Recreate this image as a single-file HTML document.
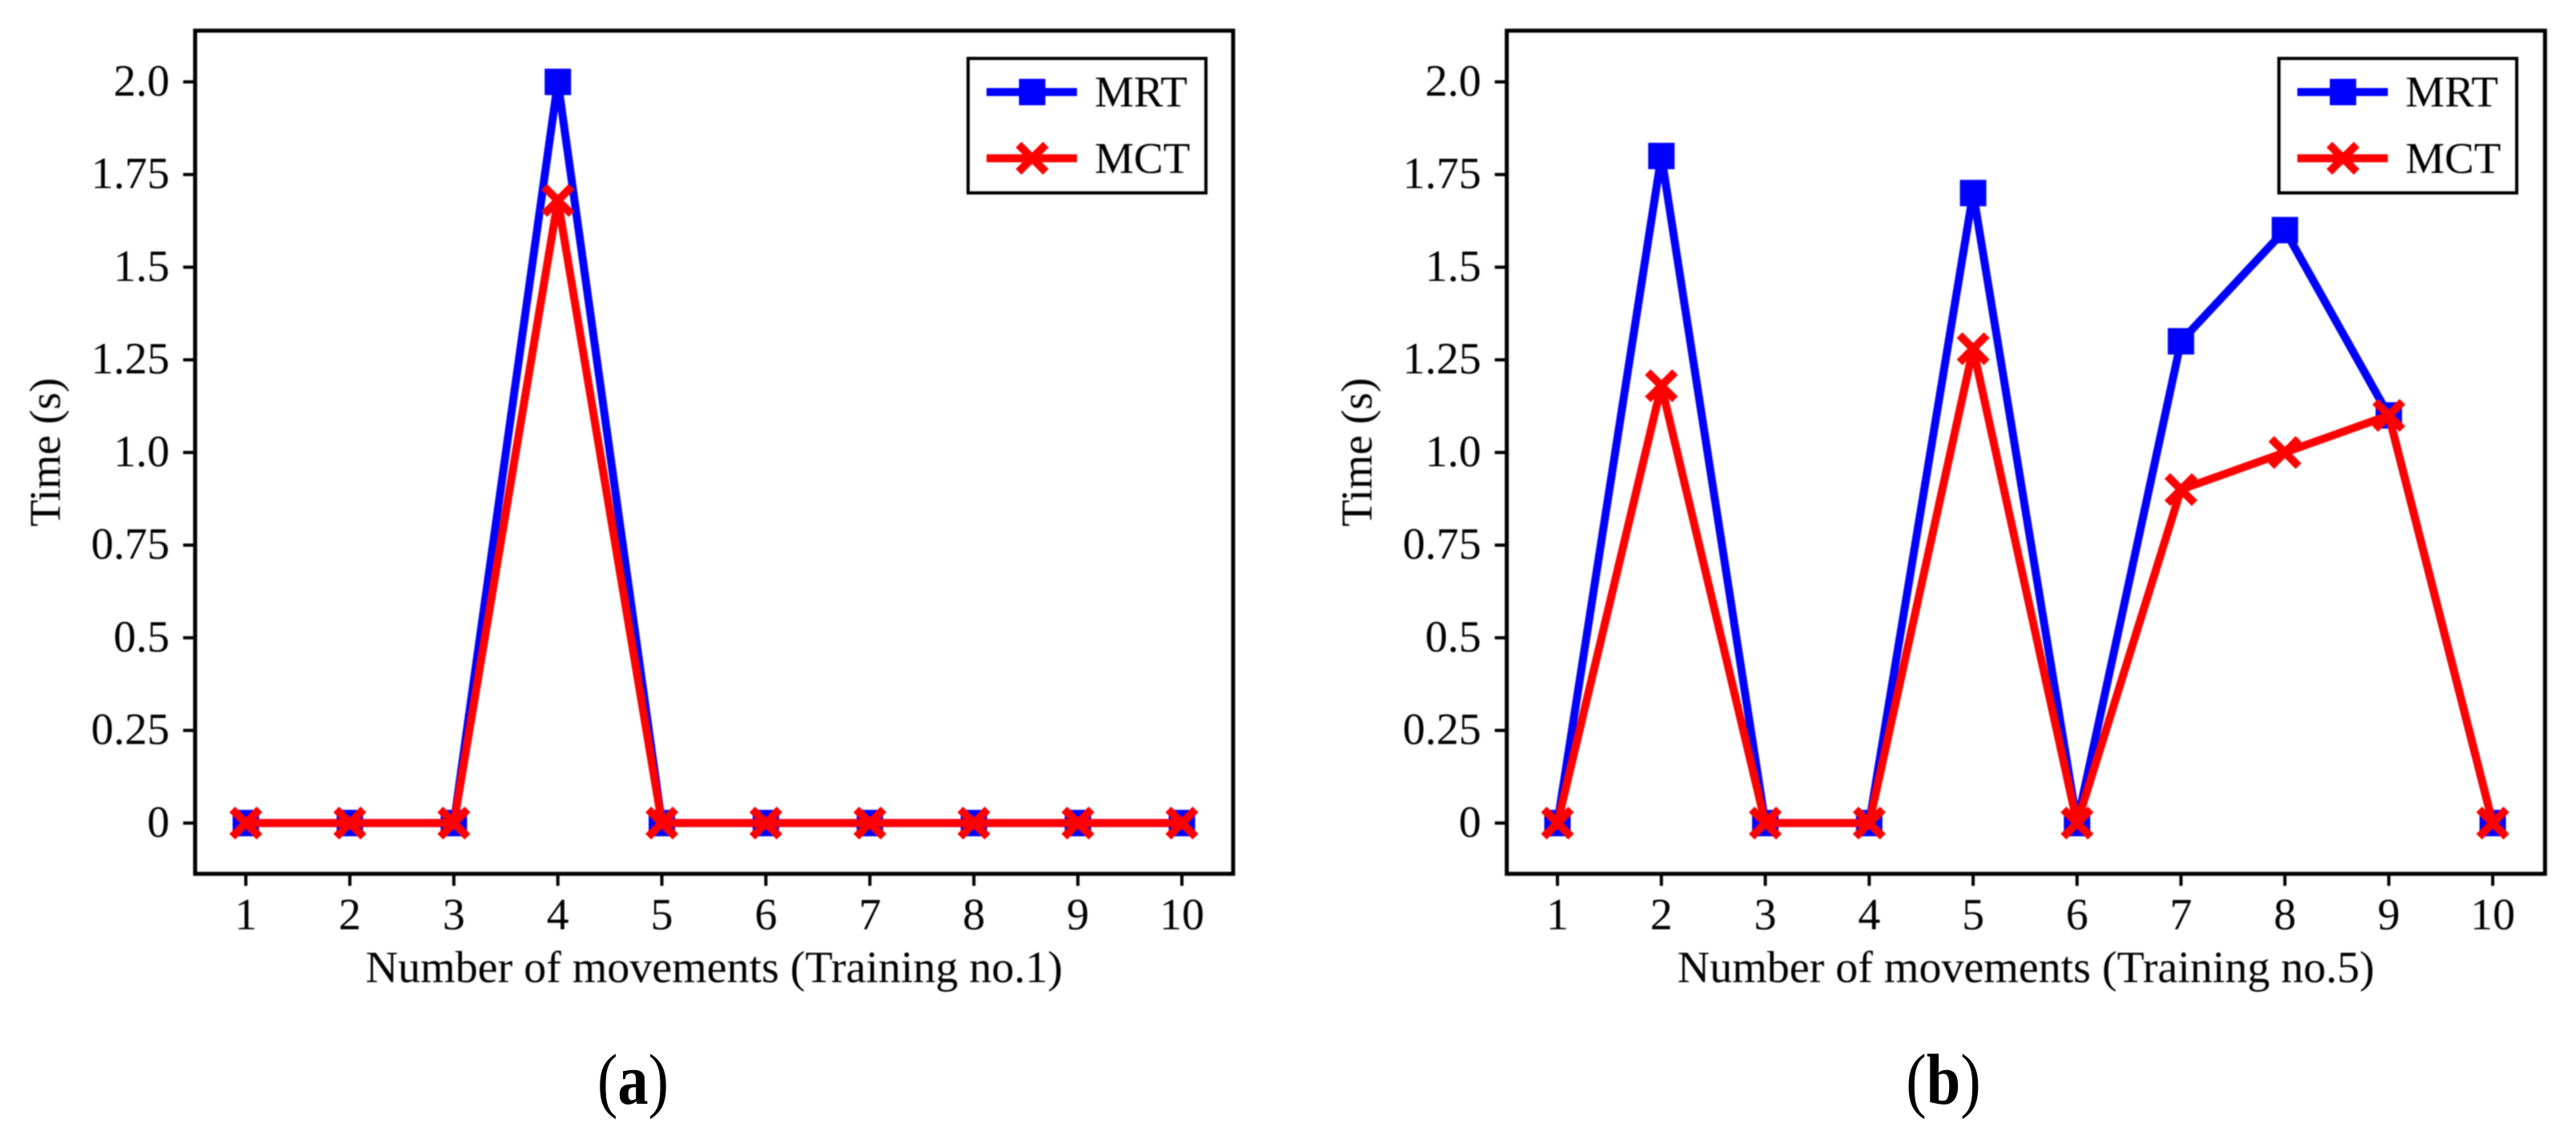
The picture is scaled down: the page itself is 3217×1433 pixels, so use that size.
<!DOCTYPE html>
<html lang="en">
<head>
<meta charset="utf-8">
<title>MRT and MCT per movement</title>
<style>
html,body{margin:0;padding:0;background:#fff;width:3217px;height:1433px;overflow:hidden}
svg{display:block}
text{font-family:"Liberation Serif",serif;fill:#000;text-rendering:geometricPrecision}
.soft{filter:blur(0.7px)}
</style>
</head>
<body>
<svg id="figure" xmlns="http://www.w3.org/2000/svg" width="3217" height="1433" viewBox="0 0 3217 1433"></svg>
<script>
const movementCategories = [1, 2, 3, 4, 5, 6, 7, 8, 9, 10];
const yTickValues = [0, 0.25, 0.5, 0.75, 1.0, 1.25, 1.5, 1.75, 2.0];
const yTickLabels = ['0', '0.25', '0.5', '0.75', '1.0', '1.25', '1.5', '1.75', '2.0'];
const mrtTraining1 = [0, 0, 0, 2.0, 0, 0, 0, 0, 0, 0];
const mctTraining1 = [0, 0, 0, 1.68, 0, 0, 0, 0, 0, 0];
const mrtTraining5 = [0, 1.8, 0, 0, 1.7, 0, 1.3, 1.6, 1.1, 0];
const mctTraining5 = [0, 1.18, 0, 0, 1.28, 0, 0.9, 1.0, 1.1, 0];

const NS = 'http://www.w3.org/2000/svg';
const svg = document.getElementById('figure');

function mk(parent, tag, attrs, txt) {
  const el = document.createElementNS(NS, tag);
  for (const k in attrs) el.setAttribute(k, attrs[k]);
  if (txt !== undefined) el.textContent = txt;
  parent.appendChild(el);
  return el;
}

function squareMarker(parent, x, y) {
  const el = mk(parent, 'rect', {x: x - 16.5, y: y - 16.5, width: 33, height: 33, fill: '#0000ff'});
  
  
}

function crossMarker(parent, x, y) {
  const h = 17;
  const el = mk(parent, 'path', {
    d: 'M' + (x - h) + ' ' + (y - h) + 'L' + (x + h) + ' ' + (y + h) + 'M' + (x - h) + ' ' + (y + h) + 'L' + (x + h) + ' ' + (y - h),
    stroke: '#ff0000', 'stroke-width': 10, fill: 'none'
  });
  
  
}

function drawPanel(p) {
  const outer = mk(svg, 'g', {});
  
  
  const g = mk(outer, 'g', {class: 'soft'});
  
  

  const xScale = v => p.x1 + (v - movementCategories[0]) * (p.x10 - p.x1) / (movementCategories[movementCategories.length - 1] - movementCategories[0]);
  const yScale = v => 1028.3 - v * 463;

  const top = 38.3, bottom = 1091.7;

  // y ticks
  yTickValues.forEach((v, i) => {
    const tick = mk(g, 'line', {x1: p.left - 15, x2: p.left, y1: yScale(v), y2: yScale(v), stroke: '#000', 'stroke-width': 4});
    
    
    const lab = mk(g, 'text', {x: p.left - 32, y: yScale(v) + 17, 'font-size': 56, 'text-anchor': 'end'}, yTickLabels[i]);
    
    
  });

  // x ticks
  movementCategories.forEach(c => {
    const tick = mk(g, 'line', {x1: xScale(c), x2: xScale(c), y1: bottom, y2: bottom + 15, stroke: '#000', 'stroke-width': 4});
    
    
    const lab = mk(g, 'text', {x: xScale(c), y: 1161, 'font-size': 56, 'text-anchor': 'middle'}, String(c));
    
    
  });

  // series
  const mrtPts = movementCategories.map((c, i) => xScale(c) + ',' + yScale(p.mrt[i])).join(' ');
  const mrtLine = mk(g, 'polyline', {points: mrtPts, fill: 'none', stroke: '#0000ff', 'stroke-width': 10, 'stroke-linejoin': 'round'});
  
  
  movementCategories.forEach((c, i) => squareMarker(g, xScale(c), yScale(p.mrt[i])));

  const mctPts = movementCategories.map((c, i) => xScale(c) + ',' + yScale(p.mct[i])).join(' ');
  const mctLine = mk(g, 'polyline', {points: mctPts, fill: 'none', stroke: '#ff0000', 'stroke-width': 10, 'stroke-linejoin': 'round'});
  
  
  movementCategories.forEach((c, i) => crossMarker(g, xScale(c), yScale(p.mct[i])));

  // frame
  const frame = mk(g, 'rect', {x: p.left, y: top, width: p.right - p.left, height: bottom - top, fill: 'none', stroke: '#000', 'stroke-width': 5});
  
  

  // axis titles
  const xt = mk(g, 'text', {x: (p.left + p.right) / 2, y: 1227, 'font-size': 56, 'text-anchor': 'middle'}, p.xTitle);
  
  
  const yx = p.left - 169;
  const yt = mk(g, 'text', {x: yx, y: 565, 'font-size': 55, 'text-anchor': 'middle', transform: 'rotate(-90 ' + yx + ' 565)'}, 'Time (s)');
  
  

  // legend
  const L = p.legendLeft;
  const leg = mk(g, 'g', {});
  
  
  const box = mk(leg, 'rect', {x: L, y: 73, width: 297, height: 168, fill: '#fff', stroke: '#000', 'stroke-width': 4});
  
  
  const l1 = mk(leg, 'line', {x1: L + 23, x2: L + 136, y1: 115, y2: 115, stroke: '#0000ff', 'stroke-width': 10});
  
  
  squareMarker(leg, L + 80, 115);
  const t1 = mk(leg, 'text', {x: L + 158, y: 133, 'font-size': 55}, 'MRT');
  
  
  const l2 = mk(leg, 'line', {x1: L + 23, x2: L + 136, y1: 197.7, y2: 197.7, stroke: '#ff0000', 'stroke-width': 10});
  
  
  crossMarker(leg, L + 80, 197.7);
  const t2 = mk(leg, 'text', {x: L + 158, y: 216, 'font-size': 55}, 'MCT');
  
  

  // caption
  const cap = mk(outer, 'text', {x: 0, y: 0, 'font-size': 90, 'text-anchor': 'middle', transform: 'translate(' + p.capX + ' 1379) scale(0.85 1)'});
  
  
  mk(cap, 'tspan', {}, '(');
  mk(cap, 'tspan', {'font-weight': 'bold'}, p.letter);
  mk(cap, 'tspan', {}, ')');
}

drawPanel({name: 'panel-a', left: 243.7, right: 1540, x1: 307, x10: 1476, legendLeft: 1209, capX: 790.5, letter: 'a',
  xTitle: 'Number of movements (Training no.1)', mrt: mrtTraining1, mct: mctTraining1});
drawPanel({name: 'panel-b', left: 1881.7, right: 3178.3, x1: 1945, x10: 3113, legendLeft: 2846, capX: 2427, letter: 'b',
  xTitle: 'Number of movements (Training no.5)', mrt: mrtTraining5, mct: mctTraining5});
</script>
</body>
</html>
